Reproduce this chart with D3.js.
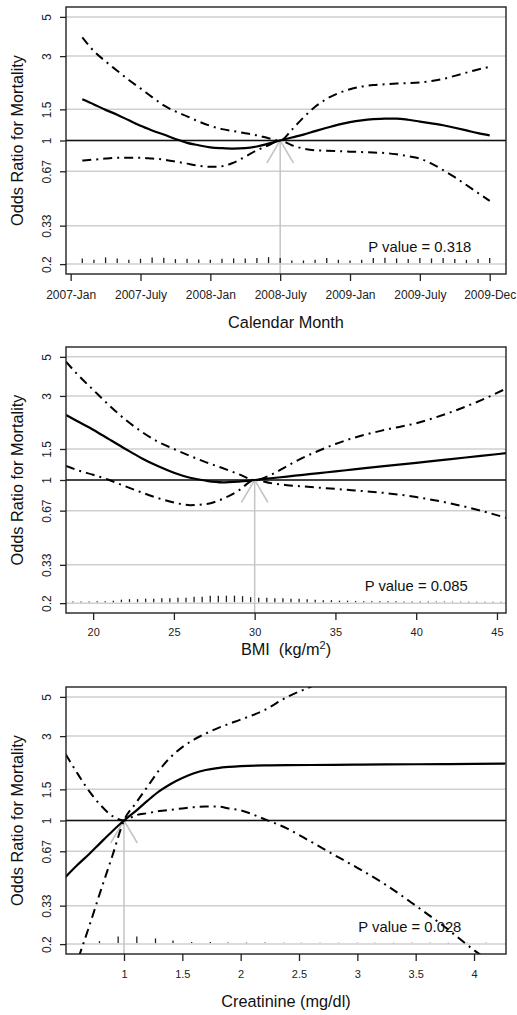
<!DOCTYPE html>
<html>
<head>
<meta charset="utf-8">
<script src="https://cdn.jsdelivr.net/npm/d3@7"></script>
<style>
  body { margin: 0; background: #fff; }
  svg { display: block; font-family: "Liberation Sans", Arial, Helvetica, sans-serif; }
</style>
</head>
<body>
<svg id="chart" width="517" height="1015"></svg>
<script>
// odds ratio axis (shared)
var orTicks = [0.2, 0.33, 0.67, 1, 1.5, 3, 5]
var orTickLabels = ["0.2", "0.33", "0.67", "1", "1.5", "3", "5"]

// panel 1 - calendar month (1 = 2007-Jan ... 36)
var monthX = [1,2,3,4,5,6,7,8,9,10,11,12,13,14,15,16,17,18,19,20,21,22,23,24,25,26,27,28,29,30,31,32,33,34,35,36]
var calSolid = [1.71,1.60,1.49,1.40,1.30,1.21,1.14,1.08,1.02,0.97,0.94,0.915,0.905,0.90,0.905,0.925,0.96,1.00,1.04,1.08,1.13,1.18,1.23,1.27,1.30,1.32,1.33,1.33,1.31,1.28,1.25,1.22,1.18,1.14,1.10,1.07]
var calUpper = [3.83,3.20,2.80,2.48,2.20,1.97,1.76,1.58,1.46,1.37,1.28,1.21,1.16,1.13,1.10,1.07,1.03,1.00,1.15,1.35,1.55,1.72,1.85,1.95,2.02,2.06,2.08,2.10,2.11,2.13,2.17,2.23,2.32,2.42,2.52,2.61]
var calLower = [0.77,0.78,0.79,0.80,0.80,0.80,0.79,0.78,0.76,0.74,0.72,0.71,0.715,0.75,0.81,0.88,0.94,1.00,0.94,0.90,0.88,0.875,0.87,0.865,0.86,0.855,0.85,0.835,0.815,0.79,0.74,0.68,0.62,0.56,0.505,0.456]
var calRugN = [47,33,57,47,33,43,57,53,40,43,37,33,43,47,47,50,60,50,27,27,33,50,33,27,33,50,53,47,40,50,47,50,40,33,40,50]
var calTicks = [0, 6, 12, 18, 24, 30, 36]
var calTickLabels = ["2007-Jan", "2007-July", "2008-Jan", "2008-July", "2009-Jan", "2009-July", "2009-Dec"]

// panel 2 - BMI
var bmiX = [18.32,19,20,21,22,23,24,25,26,27,28,29,30,31,32,33,34,35,36,38,40,42,44,45.56]
var bmiSolid = [2.34,2.16,1.93,1.70,1.50,1.33,1.20,1.10,1.03,0.99,0.97,0.98,1.00,1.023,1.046,1.07,1.094,1.12,1.145,1.198,1.25,1.31,1.37,1.42]
var bmiUpper = [4.69,4.00,3.25,2.65,2.20,1.88,1.65,1.50,1.37,1.26,1.17,1.08,1.00,1.07,1.20,1.34,1.47,1.60,1.72,1.92,2.10,2.40,2.83,3.30]
var bmiLower = [1.20,1.14,1.07,1.00,0.92,0.85,0.79,0.745,0.72,0.73,0.78,0.87,1.00,0.96,0.935,0.92,0.905,0.89,0.875,0.845,0.80,0.74,0.67,0.61]
var bmiRugX = [18.75,19.25,19.75,20.25,20.75,21.25,21.75,22.25,22.75,23.25,23.75,24.25,24.75,25.25,25.75,26.25,26.75,27.25,27.75,28.25,28.75,29.25,29.75,30.25,30.75,31.25,31.75,32.25,32.75,33.25,33.75,34.25,34.75,35.25,35.75,36.25,36.75,37.25,37.75,38.25,38.75,39.25,39.75,40.25,40.75,41.25,41.75,42.25,42.75,43.25,43.75,44.25,44.75,45.25]
var bmiRugN = [7,7,7,10,10,15,25,30,30,35,35,40,40,45,45,55,55,65,65,65,65,60,50,45,45,40,40,35,35,30,25,20,20,15,15,12,10,10,8,8,8,7,7,7,6,6,6,5,5,5,5,5,5,5]
var bmiTicks = [20, 25, 30, 35, 40, 45]

// panel 3 - creatinine
var creX = [0.5,0.6,0.7,0.8,0.9,1.0,1.1,1.2,1.3,1.4,1.5,1.6,1.7,1.8,1.9,2.0,2.2,2.4,2.6,2.8,3.0,3.25,3.5,3.75,4.0,4.27]
var creSolid = [0.48,0.56,0.645,0.75,0.87,1.00,1.13,1.29,1.46,1.61,1.74,1.85,1.93,1.98,2.01,2.03,2.05,2.055,2.06,2.065,2.07,2.075,2.08,2.085,2.09,2.10]
var creUpper = [0.10,0.16,0.25,0.40,0.63,1.00,1.25,1.55,1.92,2.28,2.60,2.87,3.10,3.32,3.52,3.72,4.20,5.00,5.70,6.50,7.40,8.60,10.0,11.5,13.0,15.0]
var creLower = [2.37,1.85,1.47,1.22,1.06,1.00,1.07,1.10,1.13,1.15,1.17,1.19,1.20,1.20,1.17,1.14,1.02,0.90,0.76,0.64,0.54,0.43,0.33,0.25,0.185,0.14]
var creRugX = [0.79,0.95,1.11,1.27,1.42,1.58,1.74,1.89,2.05,2.21,2.37,2.52,2.68,2.84,3.0,3.15,3.31,3.47,3.62,3.78,3.94,4.1]
var creRugN = [20,65,65,47,27,12,10,7,5,5,4,4,4,3,3,3,3,3,3,3,3,3]
var creTicks = [1, 1.5, 2, 2.5, 3, 3.5, 4]

var svg = d3.select("#chart")
var box = { left: 66, right: 506 }
var rugH = d3.scaleLinear().domain([0, 100]).range([0, 10])

function zip(xs, ys) { return xs.map(function (v, i) { return { x: v, y: ys[i] } }) }

function drawPanel(p, idx) {
    var g = svg.append("g")
    var x = d3.scaleLinear().domain(p.xlim).range([box.left, box.right])
    // log axis 0.2..5 with R's 4% extension
    var lr = Math.log(5) - Math.log(0.2)
    var y = d3.scaleLog()
        .domain([Math.exp(Math.log(0.2) - 0.04 * lr), Math.exp(Math.log(5) + 0.04 * lr)])
        .range([p.bottom, p.top])

    var clipId = "clip" + idx
    g.append("clipPath").attr("id", clipId).append("rect")
        .attr("x", box.left).attr("y", p.top)
        .attr("width", box.right - box.left).attr("height", p.bottom - p.top)
    var inner = g.append("g").attr("clip-path", "url(#" + clipId + ")")

    // grid
    inner.selectAll(".grid").data(orTicks).enter().append("line")
        .attr("x1", box.left).attr("x2", box.right)
        .attr("y1", function (d) { return y(d) }).attr("y2", function (d) { return y(d) })
        .attr("stroke", "#cfcfcf").attr("stroke-width", 1.5)
    inner.append("line")
        .attr("x1", box.left).attr("x2", box.right)
        .attr("y1", y(1)).attr("y2", y(1))
        .attr("stroke", "#111").attr("stroke-width", 1.3)

    // reference arrow
    var rx = x(p.ref), ry = y(1)
    inner.append("line").attr("x1", rx).attr("x2", rx).attr("y1", p.bottom).attr("y2", ry)
        .attr("stroke", "#c4c4c4").attr("stroke-width", 1.5)
    inner.selectAll(".head").data([-1, 1]).enter().append("line")
        .attr("x1", rx).attr("y1", ry)
        .attr("x2", function (d) { return rx + d * 13.3 }).attr("y2", ry + 22.5)
        .attr("stroke", "#c4c4c4").attr("stroke-width", 1.5)

    // rug
    var base = y(0.2) - 1
    inner.selectAll(".rug").data(zip(p.rugX, p.rugN)).enter().append("line")
        .attr("x1", function (d) { return x(d.x) }).attr("x2", function (d) { return x(d.x) })
        .attr("y1", base).attr("y2", function (d) { return base - rugH(d.y) })
        .attr("stroke", "#222").attr("stroke-width", 1.3)

    // p value
    g.append("text").attr("x", x(p.pAt)).attr("y", y(0.25)).attr("dy", "0.36em")
        .attr("text-anchor", "middle").attr("font-size", 14.8).attr("fill", "#111")
        .text(p.pText)

    // curves
    var line = d3.line().x(function (d) { return x(d.x) }).y(function (d) { return y(d.y) })
        .curve(d3.curveMonotoneX)
    inner.append("path").attr("d", line(zip(p.xs, p.solid)))
        .attr("fill", "none").attr("stroke", "#000").attr("stroke-width", 2.2)
    ;[p.upper, p.lower].forEach(function (s) {
        inner.append("path").attr("d", line(zip(p.xs, s)))
            .attr("fill", "none").attr("stroke", "#000").attr("stroke-width", 2)
            .attr("stroke-dasharray", "9,5,2,5")
    })

    // box
    g.append("rect").attr("x", box.left).attr("y", p.top)
        .attr("width", box.right - box.left).attr("height", p.bottom - p.top)
        .attr("fill", "none").attr("stroke", "#222").attr("stroke-width", 1.4)

    // x axis
    var xa = g.append("g").attr("transform", "translate(0," + p.bottom + ")")
        .call(d3.axisBottom(x).tickValues(p.ticks).tickSize(7)
            .tickFormat(function (d, i) { return p.tickLabels ? p.tickLabels[i] : d }))
    xa.select(".domain").remove()
    xa.selectAll(".tick line").attr("stroke", "#222").attr("stroke-width", 1.3)
    xa.selectAll(".tick text").attr("y", p.xLabY).attr("font-size", p.xFont)
        .attr("fill", "#222").attr("font-family", null)

    // y axis
    var ya = g.append("g").attr("transform", "translate(" + box.left + ",0)")
        .call(d3.axisLeft(y).tickValues(orTicks).tickSize(6)
            .tickFormat(function (d, i) { return orTickLabels[i] }))
    ya.select(".domain").remove()
    ya.selectAll(".tick line").attr("stroke", "#222").attr("stroke-width", 1.3)
    ya.selectAll(".tick text").attr("transform", "rotate(-90)")
        .attr("x", 0).attr("y", -14.7).attr("dy", 0)
        .attr("text-anchor", "middle").attr("font-size", 12)
        .attr("fill", "#222").attr("font-family", null)

    // titles
    var mid = (box.left + box.right) / 2
    var xt = g.append("text").attr("x", mid).attr("y", p.bottom + p.titleGap)
        .attr("text-anchor", "middle").attr("font-size", 16.3).attr("fill", "#111")
    p.title(xt)
    g.append("text")
        .attr("transform", "translate(22.5," + ((p.top + p.bottom) / 2) + ") rotate(-90)")
        .attr("text-anchor", "middle").attr("font-size", 16.3).attr("fill", "#111")
        .text("Odds Ratio for Mortality")
}

var panels = [
    {
        top: 7, bottom: 274, xlim: [-0.4, 37.4], ref: 18,
        xs: monthX, solid: calSolid, upper: calUpper, lower: calLower,
        rugX: monthX, rugN: calRugN,
        ticks: calTicks, tickLabels: calTickLabels, xFont: 12, xLabY: 16.5,
        pAt: 30, pText: "P value = 0.318", titleGap: 53.5,
        title: function (t) { t.text("Calendar Month") }
    },
    {
        top: 347, bottom: 613, xlim: [18.32, 45.56], ref: 30,
        xs: bmiX, solid: bmiSolid, upper: bmiUpper, lower: bmiLower,
        rugX: bmiRugX, rugN: bmiRugN,
        ticks: bmiTicks, tickLabels: null, xFont: 11, xLabY: 15.5,
        pAt: 40, pText: "P value = 0.085", titleGap: 41.5,
        title: function (t) {
            t.append("tspan").text("BMI\u00a0\u00a0(kg/m")
            t.append("tspan").attr("dy", -6).attr("font-size", 11).text("2")
            t.append("tspan").attr("dy", 6).text(")")
        }
    },
    {
        top: 687, bottom: 954, xlim: [0.503, 4.274], ref: 1,
        xs: creX, solid: creSolid, upper: creUpper, lower: creLower,
        rugX: creRugX, rugN: creRugN,
        ticks: creTicks, tickLabels: null, xFont: 11, xLabY: 16.5,
        pAt: 3.45, pText: "P value = 0.028", titleGap: 53,
        title: function (t) { t.text("Creatinine (mg/dl)") }
    }
]

panels.forEach(drawPanel)
</script>
</body>
</html>
